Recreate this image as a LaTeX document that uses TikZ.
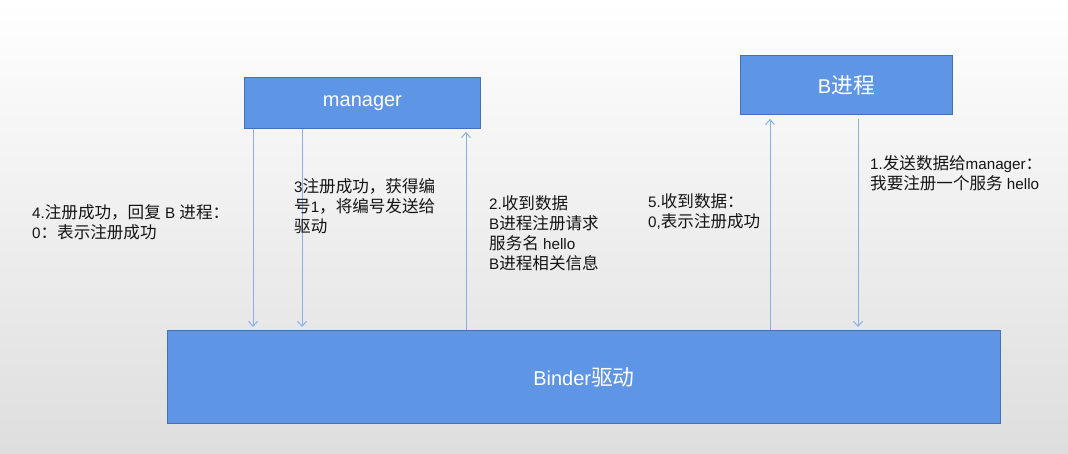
\documentclass[tikz,border=0pt]{standalone}
\usepackage{fontspec}
\setmainfont{Liberation Sans}
\newfontfamily\zh{Noto Sans CJK SC}[Scale=1.09]
\usetikzlibrary{arrows.meta}
\definecolor{boxfill}{HTML}{5F95E5}
\definecolor{boxdraw}{HTML}{4470B8}
\definecolor{arrcol}{HTML}{8AAEE8}
\definecolor{txt}{HTML}{141414}
\begin{document}
\begin{tikzpicture}[x=1pt,y=-1pt,
  blockbox/.style={draw=boxdraw,fill=boxfill,line width=0.9pt,text=white,font=\fontsize{20}{24}\selectfont,inner sep=0pt},
  arr/.style={draw=arrcol,line width=1pt,-{Straight Barb[length=5pt,width=9pt]}},
  lbl/.style={anchor=north west,align=left,inner sep=0pt,text=txt,font=\fontsize{15.2}{20}\selectfont}]
\shade[top color=white,bottom color=black!13] (0,0) rectangle (1068,454);
\useasboundingbox (0,0) rectangle (1068,454);
\node[blockbox,minimum width=236pt,minimum height=51pt,anchor=north west] (manager) at (244,77) {manager};
\node[blockbox,minimum width=212pt,minimum height=59pt,anchor=north west] (bproc) at (740,55) {B{\zh 进程}};
\node[blockbox,minimum width=833pt,minimum height=93pt,anchor=north west] (binder) at (167,330) {Binder{\zh 驱动}};
\draw[arr,shorten >=3pt] ([xshift=9pt]manager.south west) -- ([xshift=86pt]binder.north west);
\draw[arr,shorten >=3pt] ([xshift=58pt]manager.south west) -- ([xshift=135pt]binder.north west);
\draw[arr,shorten >=3pt] ([xshift=299pt]binder.north west) -- ([xshift=222pt]manager.south west);
\draw[arr,shorten >=4pt] ([xshift=603pt]binder.north west) -- ([xshift=30pt]bproc.south west);
\draw[arr,shorten <=4pt,shorten >=3pt] ([xshift=118pt]bproc.south west) -- ([xshift=691pt]binder.north west);
\node[lbl] (t4) at (32,204) {4.{\zh 注册成功，回复} B {\zh 进程：}\\0{\zh ：表示注册成功}};
\node[lbl] (t3) at (294,178) {3{\zh 注册成功，获得编}\\{\zh 号}1{\zh ，将编号发送给}\\{\zh 驱动}};
\node[lbl] (t2) at (489,195) {2.{\zh 收到数据}\\B{\zh 进程注册请求}\\{\zh 服务名} hello\\B{\zh 进程相关信息}};
\node[lbl] (t5) at (648,193) {5.{\zh 收到数据：}\\0,{\zh 表示注册成功}};
\node[lbl] (t1) at (870,155) {1.{\zh 发送数据给}manager{\zh ：}\\{\zh 我要注册一个服务} hello};
\end{tikzpicture}
\end{document}
